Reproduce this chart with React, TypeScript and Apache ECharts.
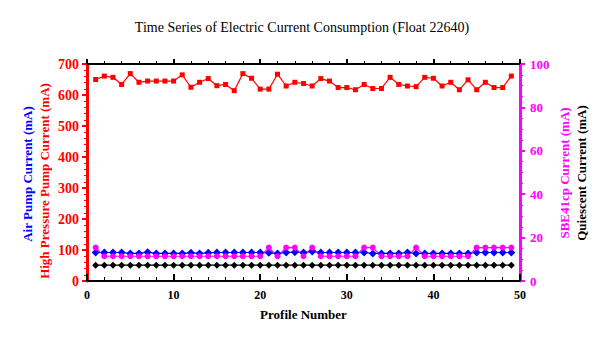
import React, { useEffect, useRef } from "react";
import * as echarts from "echarts";

const profiles = [1,2,3,4,5,6,7,8,9,10,11,12,13,14,15,16,17,18,19,20,21,22,23,24,25,26,27,28,29,30,31,32,33,34,35,36,37,38,39,40,41,42,43,44,45,46,47,48,49];
const hpPump = [650,661,657,634,669,641,645,645,645,645,665,625,641,653,630,634,614,669,654,619,619,667,629,641,637,629,653,645,624,624,617,634,621,621,657,634,629,627,657,654,629,641,617,649,617,641,624,624,661];
const airPump = [92,92,92,92,89,89,93,89,89,89,89,91,89,91,92,92,92,92,92,92,91,89,92,93,92,95,92,92,92,92,92,92,89,89,89,89,92,89,89,89,89,89,89,89,92,92,92,92,92];
const sbe41cp = [15.4,11.4,11.4,11.4,11.4,11.4,11.4,11.4,11.4,11.4,11.4,11.4,11.4,11.4,11.4,11.4,11.4,11.4,11.4,11.4,15.4,11.4,15.4,15.4,11.4,15.4,11.4,11.4,11.4,11.4,11.4,15.4,15.4,11.4,11.4,11.4,11.4,15.4,11.4,11.4,11.4,11.4,11.4,11.4,15.4,15.4,15.4,15.4,15.4];
const quiescent = [7.3,7.3,7.3,7.3,7.3,7.3,7.3,7.3,7.3,7.3,7.3,7.3,7.3,7.3,7.3,7.3,7.3,7.3,7.3,7.3,7.3,7.3,7.3,7.3,7.3,7.3,7.3,7.3,7.3,7.3,7.3,7.3,7.3,7.3,7.3,7.3,7.3,7.3,7.3,7.3,7.3,7.3,7.3,7.3,7.3,7.3,7.3,7.3,7.3];

const FONT = "'Liberation Serif', 'Times New Roman', serif";
const RED = "#ff0000";
const BLUE = "#0000ff";
const MAG = "#ff00ff";

function pairs(vals: number[]) {
  return profiles.map((p, i) => [p, vals[i]]);
}

export default function App() {
  const ref = useRef<HTMLDivElement>(null);
  useEffect(() => {
    if (!ref.current) return;
    const chart = echarts.init(ref.current, null, { renderer: "svg" });
    const textBase = { fontFamily: FONT, fontSize: 13, fontWeight: "bold" };
    chart.setOption({
      animation: false,
      backgroundColor: "#ffffff",
      textStyle: { fontFamily: FONT },
      title: {
        text: "Time Series of Electric Current Consumption (Float 22640)",
        left: "center",
        top: 15,
        textStyle: { fontFamily: FONT, fontSize: 14, fontWeight: "normal", color: "#000" },
      },
      grid: { left: 87, right: 84, top: 64, bottom: 57, containLabel: false },
      xAxis: [
        {
          type: "value", min: 0, max: 50, interval: 10, position: "bottom",
          axisLine: { onZero: false, lineStyle: { color: "#000", width: 2 } },
          axisTick: { inside: true, length: 7, lineStyle: { color: "#000", width: 2 } },
          minorTick: { show: true, splitNumber: 5, length: 4, lineStyle: { color: "#000", width: 1 } },
          axisLabel: { color: "#000", fontFamily: FONT, fontSize: 12, fontWeight: "bold", margin: 8 },
          splitLine: { show: false },
          name: "Profile Number", nameLocation: "middle", nameGap: 27,
          nameTextStyle: { color: "#000", fontFamily: FONT, fontSize: 13, fontWeight: "bold" },
        },
        {
          type: "value", min: 0, max: 50, interval: 10, position: "top",
          axisLine: { onZero: false, lineStyle: { color: "#000", width: 2 } },
          axisTick: { inside: false, length: 5, lineStyle: { color: "#000", width: 2 } },
          minorTick: { show: true, splitNumber: 5, length: 3, lineStyle: { color: "#000", width: 1 } },
          axisLabel: { show: false },
          splitLine: { show: false },
        },
      ],
      yAxis: [
        {
          type: "value", min: 0, max: 700, interval: 100, position: "left",
          axisLine: { show: true, onZero: false, lineStyle: { color: RED, width: 3 } },
          axisTick: { show: true, length: 5, lineStyle: { color: RED, width: 2 } },
          minorTick: { show: true, splitNumber: 5, length: 3, lineStyle: { color: RED, width: 1 } },
          axisLabel: { color: RED, fontFamily: FONT, fontSize: 14, fontWeight: "bold", margin: 8 },
          splitLine: { show: false },
        },
        {
          type: "value", min: 0, max: 100, interval: 20, position: "right",
          axisLine: { show: true, onZero: false, lineStyle: { color: MAG, width: 3 } },
          axisTick: { show: true, length: 5, lineStyle: { color: MAG, width: 2 } },
          minorTick: { show: true, splitNumber: 4, length: 3, lineStyle: { color: MAG, width: 1 } },
          axisLabel: { color: MAG, fontFamily: FONT, fontSize: 13, fontWeight: "bold", margin: 10 },
          splitLine: { show: false },
        },
      ],
      graphic: [
        {
          type: "text", x: 44, y: 181, rotation: Math.PI / 2,
          style: { ...textBase, text: "High Pressure Pump Current (mA)", fill: RED, align: "center", verticalAlign: "middle" },
        },
        {
          type: "text", x: 27, y: 174, rotation: Math.PI / 2,
          style: { ...textBase, text: "Air Pump Current (mA)", fill: BLUE, align: "center", verticalAlign: "middle" },
        },
        {
          type: "text", x: 564, y: 173, rotation: Math.PI / 2,
          style: { ...textBase, text: "SBE41cp Current (mA)", fill: MAG, align: "center", verticalAlign: "middle" },
        },
        {
          type: "text", x: 581, y: 173, rotation: Math.PI / 2,
          style: { ...textBase, text: "Quiescent Current (mA)", fill: "#000", align: "center", verticalAlign: "middle" },
        },
      ],
      series: [
        {
          name: "High Pressure Pump", type: "line", xAxisIndex: 0, yAxisIndex: 0,
          data: pairs(hpPump), symbol: "rect", symbolSize: 5,
          lineStyle: { color: RED, width: 1.2 }, itemStyle: { color: RED },
        },
        {
          name: "Air Pump", type: "line", xAxisIndex: 0, yAxisIndex: 0,
          data: pairs(airPump), symbol: "diamond", symbolSize: 8,
          lineStyle: { color: BLUE, width: 1.2 }, itemStyle: { color: BLUE },
        },
        {
          name: "SBE41cp", type: "line", xAxisIndex: 0, yAxisIndex: 1,
          data: pairs(sbe41cp), symbol: "circle", symbolSize: 6,
          lineStyle: { color: MAG, width: 1.2 }, itemStyle: { color: MAG },
        },
        {
          name: "Quiescent", type: "line", xAxisIndex: 0, yAxisIndex: 1,
          data: pairs(quiescent), symbol: "diamond", symbolSize: 7,
          lineStyle: { color: "#000", width: 1.2 }, itemStyle: { color: "#000" },
        },
      ],
    });
    return () => chart.dispose();
  }, []);
  return <div ref={ref} style={{ width: 604, height: 338, position: "absolute", left: 0, top: 0 }} />;
}
